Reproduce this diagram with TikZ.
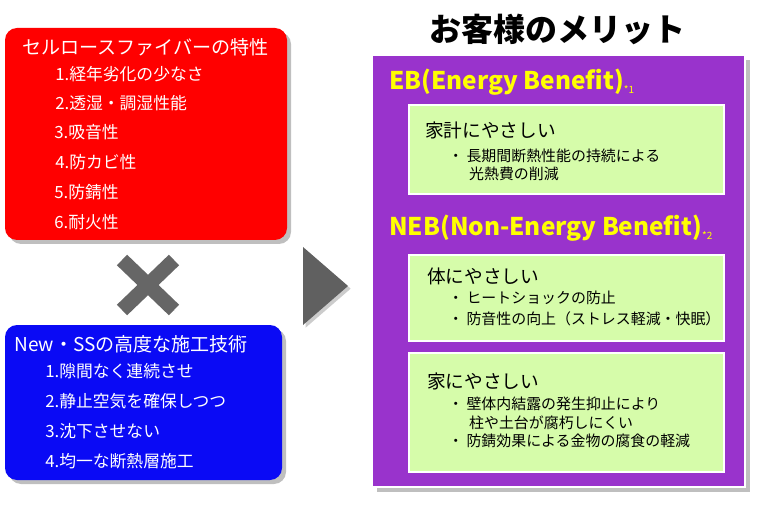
\documentclass[tikz,border=0pt]{standalone}
\usepackage{fontspec}
\setmainfont{Noto Sans CJK JP}
\usetikzlibrary{shadows}
\definecolor{myred}{RGB}{255,0,0}
\definecolor{myblue}{RGB}{10,10,245}
\definecolor{mypurple}{RGB}{153,51,204}
\definecolor{mygreen}{RGB}{214,252,170}
\definecolor{myyellow}{RGB}{255,255,0}
\begin{document}
\begin{tikzpicture}[x=0.75pt,y=-0.75pt,
  panel/.style={rounded corners=9pt, drop shadow={shadow xshift=3pt,shadow yshift=-3pt,opacity=0.5}},
  tl/.style={anchor=west, inner sep=0pt, text=white, font=\fontsize{14.3}{15}\selectfont},
  it/.style={anchor=west, inner sep=0pt, text=white, font=\fontsize{12.6}{13}\selectfont},
  gbox/.style={fill=mygreen, draw=white, line width=0.8pt},
  gh/.style={anchor=west, inner sep=0pt, font=\fontsize{14}{15}\selectfont},
  gi/.style={anchor=west, inner sep=0pt, font=\fontsize{11.2}{14}\selectfont, align=left},
  yh/.style={anchor=west, inner sep=0pt, text=myyellow, font=\fontsize{18.3}{19}\selectfont\bfseries}]
\useasboundingbox (0,0) rectangle (760,513);
% red panel
\fill[myred, panel] (5,28) rectangle (287,240);
\node[tl] (rt) at (22,47) {セルロースファイバーの特性};
\node[it] (r1) at (55,74) {1.経年劣化の少なさ};
\node[it] (r2) at (55,103) {2.透湿・調湿性能};
\node[it] (r3) at (54,132) {3.吸音性};
\node[it] (r4) at (55,162) {4.防カビ性};
\node[it] (r5) at (54,192) {5.防錆性};
\node[it] (r6) at (54,222) {6.耐火性};
% cross
\draw[gray!80!black, line width=11pt, drop shadow={shadow xshift=1pt,shadow yshift=-1pt,opacity=0.4}] (122,260) -- (174,310) (174,260) -- (122,310);
% blue panel
\fill[myblue, panel] (5,325) rectangle (282,480);
\node[tl] (bt) at (14,344) {New・SSの高度な施工技術};
\node[it] (b1) at (45,371) {1.隙間なく連続させ};
\node[it] (b2) at (45,401) {2.静止空気を確保しつつ};
\node[it] (b3) at (45,431) {3.沈下させない};
\node[it] (b4) at (45,461) {4.均一な断熱層施工};
% arrow triangle
\fill[gray!75!black, drop shadow={shadow xshift=2pt,shadow yshift=-2pt,opacity=0.4}] (303,247) -- (348,286) -- (303,325) -- cycle;
% title
\node[font=\fontsize{24}{26}\selectfont\bfseries, inner sep=0pt] (title) at (557,29) {お客様のメリット};
% purple panel
\fill[mypurple, draw=white, line width=1pt, drop shadow={shadow xshift=4pt,shadow yshift=-4pt,opacity=0.5}] (372,55) rectangle (745,487);
\node[yh] (eb) at (389,82) {EB(Energy Benefit)\raisebox{-0.3ex}{\fontsize{7.5}{8}\selectfont\mdseries *1}};
\draw[gbox] (409,105) rectangle (724,194);
\node[gh] (g1) at (425,130) {家計にやさしい};
\node[gi] (g1a) at (448,165) {・ 長期間断熱性能の持続による\\\hspace{1.4em}光熱費の削減};
\node[yh] (neb) at (389,228) {NEB(Non-Energy Benefit)\raisebox{-0.3ex}{\fontsize{7.5}{8}\selectfont\mdseries *2}};
\draw[gbox] (409,255) rectangle (724,341);
\node[gh] (g2) at (427,276) {体にやさしい};
\node[gi] (g2a) at (448,298) {・ ヒートショックの防止};
\node[gi] (g2b) at (448,319) {・ 防音性の向上（ストレス軽減・快眠）};
\draw[gbox] (409,353) rectangle (724,472);
\node[gh] (g3) at (427,381) {家にやさしい};
\node[gi] (g3a) at (448,413) {・ 壁体内結露の発生抑止により\\\hspace{1.4em}柱や土台が腐朽しにくい};
\node[gi] (g3b) at (448,441) {・ 防錆効果による金物の腐食の軽減};
\end{tikzpicture}
\end{document}
